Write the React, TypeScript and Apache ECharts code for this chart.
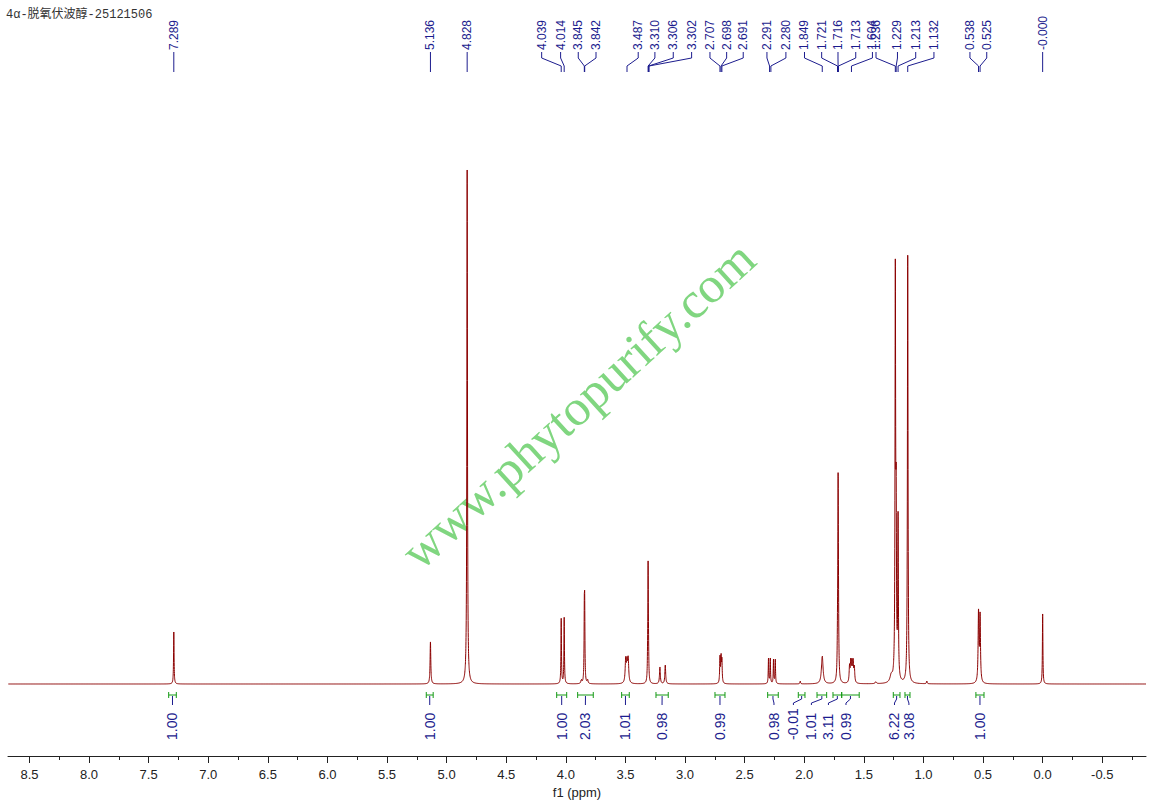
import React, { useEffect, useRef } from "react";
import * as echarts from "echarts";

const TITLE = "4α-脱氧伏波醇-25121506";
const WATERMARK = "www.phytopurify.com";
const AXIS_NAME = "f1 (ppm)";

const X_MIN = -0.867;
const X_MAX = 8.68;
const MAJOR_TICKS = [8.5, 8.0, 7.5, 7.0, 6.5, 6.0, 5.5, 5.0, 4.5, 4.0, 3.5, 3.0, 2.5, 2.0, 1.5, 1.0, 0.5, 0.0, -0.5];
const MINOR_TICKS = [8.25, 7.75, 7.25, 6.75, 6.25, 5.75, 5.25, 4.75, 4.25, 3.75, 3.25, 2.75, 2.25, 1.75, 1.25, 0.75, 0.25, -0.25, -0.75];

// spectrum lines: shift (ppm), height, half width (ppm)
const PEAK_PPM = [7.289, 5.136, 4.828, 4.039, 4.014, 3.87, 3.845, 3.842, 3.818, 3.498, 3.487, 3.477, 3.314, 3.31, 3.306, 3.211, 3.166, 2.707, 2.698, 2.691, 2.3, 2.285, 2.258, 2.243, 2.034, 1.849, 1.721, 1.716, 1.713, 1.62, 1.61, 1.6, 1.59, 1.58, 1.4, 1.27, 1.236, 1.229, 1.213, 1.132, 0.972, 0.538, 0.525, 0.0];
const PEAK_HEIGHT = [52, 42, 514, 65, 66, 4, 64, 64, 4, 23, 19, 23, 16, 114, 16, 17, 19, 26, 25, 22, 25, 25, 24, 24, 3, 28, 25, 192, 25, 16, 20, 19, 20, 15, 2, 7, 398, 150, 160, 428, 3, 70, 66, 70];
const PEAK_HWHM = [0.0025, 0.0035, 0.003, 0.0025, 0.0025, 0.004, 0.0025, 0.0025, 0.004, 0.005, 0.005, 0.005, 0.0025, 0.0025, 0.0025, 0.004, 0.004, 0.003, 0.003, 0.003, 0.0025, 0.0025, 0.0025, 0.0025, 0.003, 0.008, 0.003, 0.003, 0.003, 0.004, 0.004, 0.004, 0.004, 0.004, 0.006, 0.012, 0.003, 0.003, 0.003, 0.003, 0.003, 0.004, 0.004, 0.0025];

// peak picking
const PICK_TEXT = ["7.289", "5.136", "4.828", "4.039", "4.014", "3.845", "3.842", "3.487", "3.310", "3.306", "3.302", "2.707", "2.698", "2.691", "2.291", "2.280", "1.849", "1.721", "1.716", "1.713", "1.604", "1.236", "1.229", "1.213", "1.132", "0.538", "0.525", "-0.000"];
const PICK_PPM = [7.289, 5.136, 4.828, 4.039, 4.014, 3.845, 3.842, 3.487, 3.31, 3.306, 3.302, 2.707, 2.698, 2.691, 2.291, 2.28, 1.849, 1.721, 1.716, 1.713, 1.604, 1.236, 1.229, 1.213, 1.132, 0.538, 0.525, 0.0];
// label slot positions (layout, in ppm)
const PICK_SLOT = [7.289, 5.136, 4.828, 4.203, 4.044, 3.896, 3.747, 3.393, 3.253, 3.099, 2.945, 2.791, 2.651, 2.512, 2.313, 2.154, 1.998, 1.854, 1.717, 1.568, 1.428, 1.398, 1.218, 1.065, 0.912, 0.61, 0.469, 0.0];

// integrals
const INT_FROM = [7.332, 5.171, 4.077, 3.901, 3.532, 3.244, 2.749, 2.307, 2.05, 1.893, 1.759, 1.686, 1.253, 1.155, 0.56];
const INT_TO = [7.268, 5.113, 3.993, 3.77, 3.468, 3.141, 2.665, 2.218, 1.994, 1.812, 1.686, 1.539, 1.197, 1.113, 0.492];
const INT_VALUE = ["1.00", "1.00", "1.00", "2.03", "1.01", "0.98", "0.99", "0.98", "-0.01", "1.01", "3.11", "0.99", "6.22", "3.08", "1.00"];
// label slot positions (layout, in ppm)
const INT_SLOT = [7.3, 5.142, 4.035, 3.836, 3.5, 3.193, 2.707, 2.254, 2.091, 1.94, 1.797, 1.65, 1.243, 1.122, 0.526];

const RED = "#8b0000";
const NAVY = "#1c1c8e";
const GREEN = "#159a15";
const AXIS = "#222";

function buildSpectrum(): number[][] {
  const q = (v: number) => Math.round(v * 1e5) / 1e5;
  const set = new Set<number>();
  for (let v = X_MIN; v <= X_MAX; v += 0.002) set.add(q(v));
  set.add(X_MAX);
  PEAK_PPM.forEach((c) => {
    for (let k = -140; k <= 140; k++) {
      const v = c + k * 0.0005;
      if (v >= X_MIN && v <= X_MAX) set.add(q(v));
    }
  });
  const xs = Array.from(set).sort((a, b) => a - b);
  return xs.map((x) => {
    let y = 0;
    for (let i = 0; i < PEAK_PPM.length; i++) {
      const d = (x - PEAK_PPM[i]) / PEAK_HWHM[i];
      y += PEAK_HEIGHT[i] / (1 + d * d);
    }
    return [x, y];
  });
}

export default function App() {
  const ref = useRef<HTMLDivElement>(null);
  useEffect(() => {
    if (!ref.current) return;
    const chart = echarts.init(ref.current, undefined, { renderer: "svg" });
    const font = '"Liberation Sans", Arial, sans-serif';
    chart.setOption({
      animation: false,
      backgroundColor: "#ffffff",
      grid: { left: 8, right: 8, top: 100, bottom: 54, outerBoundsMode: "none" },
      xAxis: [
        {
          type: "value",
          min: X_MIN,
          max: X_MAX,
          inverse: true,
          position: "bottom",
          axisLine: { show: true, onZero: false, lineStyle: { color: AXIS, width: 1 } },
          axisTick: { show: true, length: 7, customValues: MAJOR_TICKS, lineStyle: { color: AXIS } },
          axisLabel: {
            customValues: MAJOR_TICKS,
            formatter: (v: number) => Number(v).toFixed(1),
            margin: 12,
            fontSize: 13,
            color: AXIS,
            fontFamily: font,
          },
          splitLine: { show: false },
          name: AXIS_NAME,
          nameLocation: "middle",
          nameGap: 28,
          nameTextStyle: { fontSize: 13, color: AXIS, fontFamily: font },
        },
        {
          type: "value",
          min: X_MIN,
          max: X_MAX,
          inverse: true,
          position: "bottom",
          axisLine: { show: false, onZero: false },
          axisTick: { show: true, length: 4, customValues: MINOR_TICKS, lineStyle: { color: AXIS } },
          axisLabel: { show: false },
          splitLine: { show: false },
        },
      ],
      yAxis: { type: "value", min: -72, max: 584, show: false },
      series: [
        {
          type: "line",
          xAxisIndex: 0,
          yAxisIndex: 0,
          data: buildSpectrum(),
          showSymbol: false,
          symbol: "none",
          silent: true,
          z: 3,
          lineStyle: { color: RED, width: 1 },
        },
      ],
    });

    const px = (v: number) => chart.convertToPixel({ xAxisIndex: 0 }, v) as number;
    const elements: any[] = [];

    elements.push({
      type: "text",
      x: 6,
      y: 15,
      z: 10,
      style: { text: TITLE, font: '12px "Liberation Mono", "Noto Sans CJK SC", monospace', fill: "#333", textVerticalAlign: "middle" },
    });
    elements.push({
      type: "text",
      x: 578,
      y: 405,
      rotation: 0.74,
      z: 0,
      style: { text: WATERMARK, font: '51px "Liberation Serif", serif', fill: "#80d680", textAlign: "center", textVerticalAlign: "middle" },
    });

    PICK_TEXT.forEach((t, i) => {
      const sx = px(PICK_SLOT[i]);
      const pxp = px(PICK_PPM[i]);
      elements.push({
        type: "text",
        x: sx,
        y: 50,
        rotation: Math.PI / 2,
        z: 10,
        style: { text: t, font: "12px " + font, fill: NAVY, textAlign: "left", textVerticalAlign: "middle" },
      });
      elements.push({
        type: "polyline",
        z: 10,
        shape: { points: [[sx, 52], [sx, 58], [pxp, 66], [pxp, 72]] },
        style: { stroke: NAVY, lineWidth: 1, fill: null },
      });
    });

    INT_VALUE.forEach((t, i) => {
      const a = px(INT_FROM[i]);
      const b = px(INT_TO[i]);
      const c = (a + b) / 2;
      const lx = px(INT_SLOT[i]);
      elements.push({ type: "line", z: 10, shape: { x1: a, y1: 695, x2: b, y2: 695 }, style: { stroke: GREEN, lineWidth: 1 } });
      elements.push({ type: "line", z: 10, shape: { x1: a, y1: 692, x2: a, y2: 698 }, style: { stroke: GREEN, lineWidth: 1 } });
      elements.push({ type: "line", z: 10, shape: { x1: b, y1: 692, x2: b, y2: 698 }, style: { stroke: GREEN, lineWidth: 1 } });
      elements.push({
        type: "polyline",
        z: 10,
        shape: { points: [[c, 696], [c, 699], [lx, 703], [lx, 705]] },
        style: { stroke: NAVY, lineWidth: 1, fill: null },
      });
      elements.push({
        type: "text",
        x: lx,
        y: 740,
        rotation: Math.PI / 2,
        z: 10,
        style: { text: t, font: "14px " + font, fill: NAVY, textAlign: "left", textVerticalAlign: "middle" },
      });
    });

    chart.setOption({ graphic: { elements } });
    return () => chart.dispose();
  }, []);
  return (
    <div
      ref={ref}
      style={{ position: "fixed", left: 0, top: 0, width: 1154, height: 810, background: "#fff" }}
    />
  );
}
